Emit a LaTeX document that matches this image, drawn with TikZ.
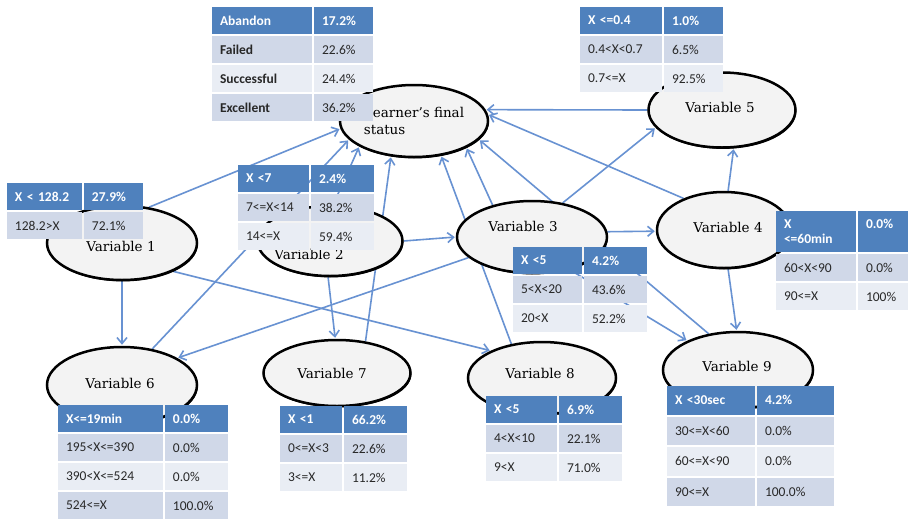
\documentclass[tikz,border=0pt]{standalone}
\usepackage{fontspec}
\usetikzlibrary{shapes.geometric,arrows.meta,matrix,shadows}
\newfontfamily\tabfont{Carlito}
\newfontfamily\elfont{DejaVu Serif}
\definecolor{edgeblue}{RGB}{104,146,210}
\definecolor{hdrblue}{RGB}{79,129,189}
\definecolor{rowdark}{RGB}{208,216,232}
\definecolor{rowlight}{RGB}{233,237,244}
\definecolor{ellfill}{RGB}{243,243,243}
\definecolor{bodytext}{RGB}{40,40,40}
\pgfdeclarelayer{bglayer}
\pgfdeclarelayer{edgelayer}
\pgfsetlayers{bglayer,edgelayer,main}
\tikzset{
 ell/.style={ellipse, draw=black, line width=2.5pt, fill=ellfill, inner sep=0pt,
   drop shadow={shadow xshift=0.8pt, shadow yshift=-1.4pt, fill=black, opacity=1}},
 elltext/.style={font=\elfont\fontsize{13.5}{17}\selectfont, inner sep=0pt},
 edge/.style={draw=edgeblue, line width=1.6pt, -{Straight Barb[length=6pt,width=10pt]}, shorten >=1pt},
 tab/.style={matrix of nodes, anchor=north west, inner sep=0pt, outer sep=0pt,
   row sep=2pt, column sep=2pt,
   nodes={inner xsep=8pt, inner ysep=1pt, minimum height=27pt, align=left,
     font=\tabfont\fontsize{13.5}{15}\selectfont, text=bodytext, anchor=center},
   row 1/.style={nodes={fill=hdrblue, text=white, font=\tabfont\bfseries\fontsize{13.5}{15}\selectfont}},
   row 2/.style={nodes={fill=rowdark}},
   row 3/.style={nodes={fill=rowlight}},
   row 4/.style={nodes={fill=rowdark}}},
}
\begin{document}
\begin{tikzpicture}[x=1pt,y=-1pt]
\useasboundingbox (0,0) rectangle (914,520);
\begin{pgfonlayer}{bglayer}
\fill[white] (0,0) rectangle (914,520);
\end{pgfonlayer}

% ellipses
\node[ell, minimum width=148pt, minimum height=72pt, align=left, font=\elfont\fontsize{13.5}{17}\selectfont] (L) at (414,121) {Learner’s final\\status};
\node[ell, minimum width=150pt, minimum height=74pt] (v1) at (122,243) {};
\node[ell, minimum width=145pt, minimum height=70pt] (v2) at (330,241) {};
\node[ell, minimum width=150pt, minimum height=72pt] (v3) at (532,237) {};
\node[ell, minimum width=134pt, minimum height=76pt] (v4) at (724,230) {};
\node[ell, minimum width=147pt, minimum height=75pt] (v5) at (722,110) {};
\node[ell, minimum width=150pt, minimum height=76pt] (v6) at (122,385) {};
\node[ell, minimum width=147pt, minimum height=66pt] (v7) at (337,373) {};
\node[ell, minimum width=148pt, minimum height=72pt] (v8) at (542,378) {};
\node[ell, minimum width=150pt, minimum height=76pt] (v9) at (738,370) {};

\node[elltext] (v1t) at (121,246) {Variable 1};
\node[elltext] (v2t) at (309,254) {Variable 2};
\node[elltext] (v3t) at (523,226) {Variable 3};
\node[elltext] (v4t) at (728,227) {Variable 4};
\node[elltext] (v5t) at (720,107) {Variable 5};
\node[elltext] (v6t) at (120,383) {Variable 6};
\node[elltext] (v7t) at (332,373) {Variable 7};
\node[elltext] (v8t) at (540,373) {Variable 8};
\node[elltext] (v9t) at (737,366) {Variable 9};

% tables
\matrix (T1) [tab, column 1/.style={nodes={text width=84pt, font=\tabfont\bfseries\fontsize{13.5}{15}\selectfont}}, column 2/.style={nodes={text width=43pt}}] at (212,7) {
Abandon & 17.2\% \\
Failed & 22.6\% \\
Successful & 24.4\% \\
Excellent & 36.2\% \\
};
\matrix (T5) [tab, column 1/.style={nodes={text width=66pt}}, column 2/.style={nodes={text width=43pt}}] at (580,7) {
X~<=0.4 & 1.0\% \\
0.4<X<0.7 & 6.5\% \\
0.7<=X & 92.5\% \\
};
\matrix (T1v) [tab, column 1/.style={nodes={text width=59pt}}, column 2/.style={nodes={text width=43pt}}] at (7,183) {
X~<~128.2 & 27.9\% \\
128.2>X & 72.1\% \\
};
\matrix (T2v) [tab, column 1/.style={nodes={text width=55pt}}, column 2/.style={nodes={text width=47pt}}] at (238,165) {
X~<7 & 2.4\% \\
7<=X<14 & 38.2\% \\
14<=X & 59.4\% \\
};
\matrix (T3v) [tab, column 1/.style={nodes={text width=53pt}}, column 2/.style={nodes={text width=47pt}}] at (513,247) {
X~<5 & 4.2\% \\
5<X<20 & 43.6\% \\
20<X & 52.2\% \\
};
\matrix (T4v) [tab, row 1/.append style={nodes={minimum height=41pt}}, column 1/.style={nodes={text width=64pt}}, column 2/.style={nodes={text width=34pt}}] at (776,211) {
X\newline <=60min & 0.0\%\newline\mbox{} \\
60<X<90 & 0.0\% \\
90<=X & 100\% \\
};
\matrix (T6v) [tab, column 1/.style={nodes={text width=89pt}}, column 2/.style={nodes={text width=47pt}}] at (58,405) {
X<=19min & 0.0\% \\
195<X<=390 & 0.0\% \\
390<X<=524 & 0.0\% \\
524<=X & 100.0\% \\
};
\matrix (T7v) [tab, column 1/.style={nodes={text width=46pt}}, column 2/.style={nodes={text width=47pt}}] at (280,406) {
X~<1 & 66.2\% \\
0<=X<3 & 22.6\% \\
3<=X & 11.2\% \\
};
\matrix (T8v) [tab, column 1/.style={nodes={text width=55pt}}, column 2/.style={nodes={text width=47pt}}] at (486,396) {
X~<5 & 6.9\% \\
4<X<10 & 22.1\% \\
9<X & 71.0\% \\
};
\matrix (T9v) [tab, nodes={minimum height=28.5pt}, column 1/.style={nodes={text width=72pt}}, column 2/.style={nodes={text width=61pt}}] at (667,386) {
X~<30sec & 4.2\% \\
30<=X<60 & 0.0\% \\
60<=X<90 & 0.0\% \\
90<=X & 100.0\% \\
};

% edges
\begin{pgfonlayer}{edgelayer}
\draw[edge] (v1.53) -- (L.186);
\draw[edge] (v6.50) -- (L.196);
\draw[edge] (v2.85) -- (L.205);
\draw[edge] (v7.48) -- (L.237);
\draw[edge] (v8.132) -- (L.308);
\draw[edge] (v3.141) -- (L.333);
\draw[edge] (v9.129) -- (L.344);
\draw[edge] (v4.142) -- (L.5);
\draw[edge] (v5.west) -- (L.9);
\draw[edge] (v3.48) -- (v5.195);
\draw[edge] (v3.4) -- (v4.181);
\draw[edge] (v2.east) -- (v3.west);
\draw[edge] (v4.84) -- (v5.287);
\draw[edge] (v4.276) -- (v9.92);
\draw[edge] (v3.319) -- (v9.150);
\draw[edge] (v1.south) -- (v6.north);
\draw[edge] (v1.331) -- (v8.152);
\draw[edge] (v2.267) -- (v7.93);
\draw[edge] (v3.198) -- (v6.26);
\end{pgfonlayer}
\end{tikzpicture}
\end{document}
